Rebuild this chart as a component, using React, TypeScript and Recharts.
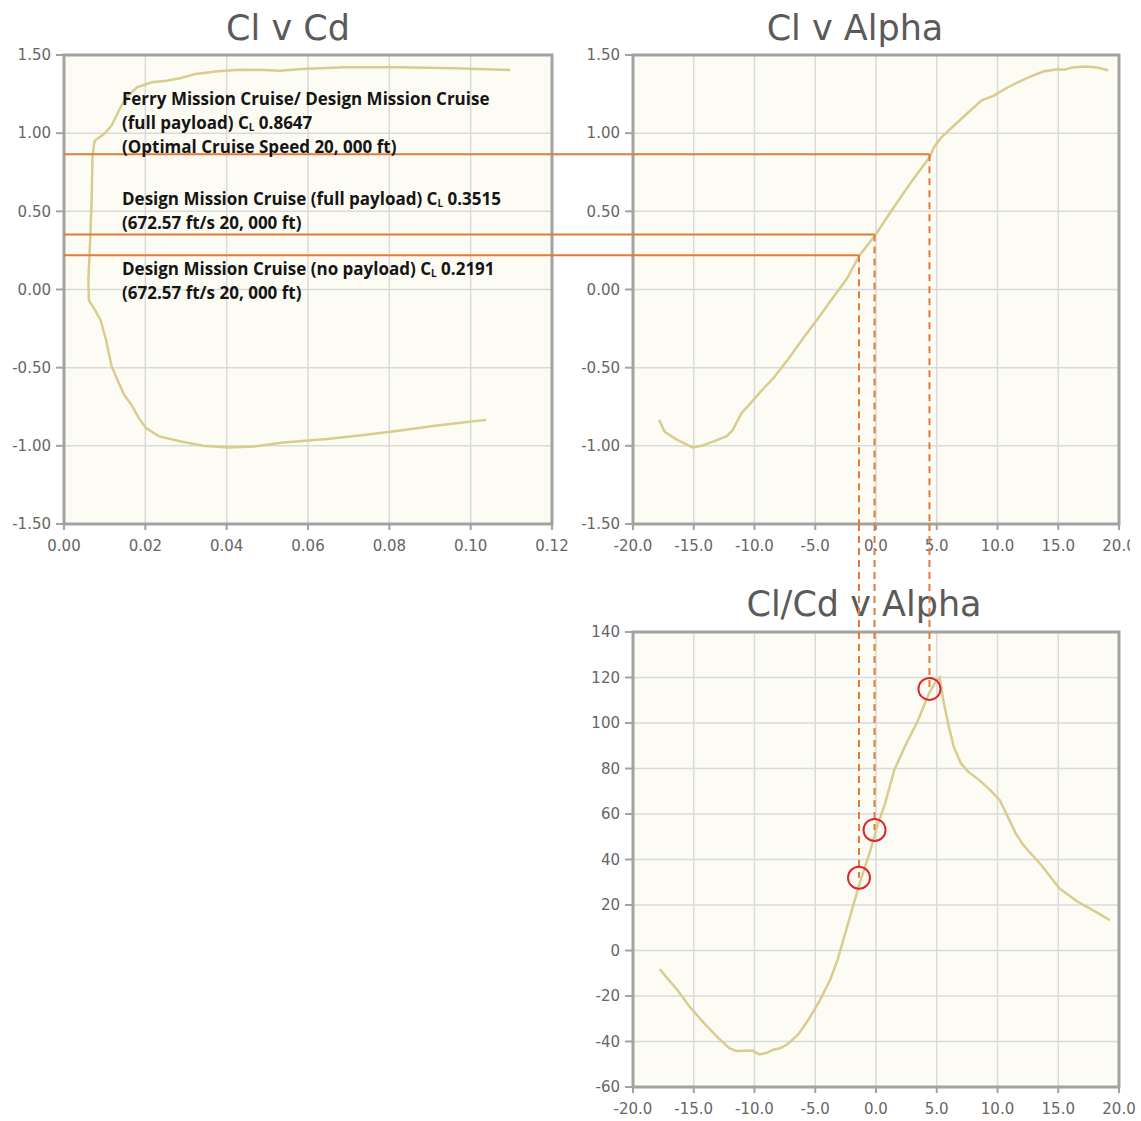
import React from 'react'
import {
    LineChart,
    Line,
    XAxis,
    YAxis,
    CartesianGrid,
    ReferenceLine,
    ReferenceDot,
    ReferenceArea,
} from 'recharts'

// Cl v Cd polar (ordered from alpha -18 to 19.5)
const polarCd = [
    0.1038, 0.0917, 0.0827, 0.0737, 0.0647, 0.0539, 0.0467, 0.0404, 0.0342, 0.0288, 0.0234, 0.0202,
    0.0184, 0.0166, 0.0148, 0.0135, 0.0117, 0.0103, 0.009, 0.0076, 0.0061, 0.006, 0.0064, 0.0068,
    0.007, 0.0074, 0.0076, 0.0099, 0.0117, 0.0135, 0.0153, 0.018, 0.0216, 0.0252, 0.0288, 0.0324,
    0.0378, 0.0431, 0.0494, 0.053, 0.0584, 0.069, 0.0827, 0.096, 0.1097,
]
const polarCl = [
    -0.834, -0.87, -0.902, -0.93, -0.957, -0.979, -1.004, -1.01, -1.0, -0.972, -0.94, -0.887,
    -0.823, -0.738, -0.674, -0.6, -0.49, -0.32, -0.196, -0.13, -0.068, 0.06, 0.3, 0.57,
    0.847, 0.932, 0.953, 0.996, 1.049, 1.145, 1.23, 1.294, 1.326, 1.336, 1.353, 1.379,
    1.396, 1.406, 1.404, 1.4, 1.411, 1.421, 1.421, 1.415, 1.404,
]

// Cl v Alpha
const clAlpha = [
    -17.85, -17.4, -16.4, -15.1, -14.35, -13.3, -12.25, -11.8, -11.06, -10.46, -9.57, -8.37, -7.17,
    -5.98, -4.78, -3.59, -2.39, -1.35, -0.06, 1.2, 2.99, 4.42, 4.78, 5.38, 6.58, 7.77, 8.67, 9.7,
    10.76, 11.66, 12.55, 13.75, 14.95, 15.5, 16.1, 17.3, 18.2, 19.1,
]
const clValues = [
    -0.834, -0.91, -0.96, -1.01, -1.0, -0.97, -0.936, -0.9, -0.79, -0.74, -0.66, -0.56, -0.44,
    -0.31, -0.185, -0.057, 0.07, 0.219, 0.347, 0.496, 0.698, 0.847, 0.91, 0.974, 1.06, 1.145, 1.208, 1.24,
    1.289, 1.325, 1.357, 1.394, 1.409, 1.405, 1.42, 1.426, 1.42, 1.402,
]

// Cl/Cd v Alpha
const clcdAlpha = [
    -17.8, -17.37, -16.3, -15.4, -14.2, -13.0, -12.1, -11.5, -10.2, -9.6, -9.0, -8.4, -7.9, -7.3,
    -6.4, -5.54, -4.64, -3.74, -3.14, -2.54, -1.95, -1.35, -0.45, 0.09, 0.75, 1.5, 2.5, 3.44, 4.34,
    4.94, 5.24, 5.54, 6.0, 6.4, 7.0, 7.6, 8.5, 9.4, 10.2, 11.5, 12.1, 13.6, 15.1, 16.6, 18.1, 19.25,
]
const clcdValues = [
    -8.1, -11, -17.7, -24.3, -31.7, -38.3, -42.8, -44.2, -44, -45.7, -45, -43.5, -43, -41.3,
    -36.9, -30.2, -22.1, -12.5, -3.7, 7.4, 18.4, 29.5, 44.2, 54.5, 64.7, 79.3, 91, 101, 112.7,
    118.5, 120, 110, 98.2, 89.5, 82.2, 78.5, 74.9, 70.5, 66, 51.5, 46.5, 37.6, 27.3, 21.4, 17, 13.3,
]

// cruise points: ferry / design full payload / design no payload
const cruiseCl = [0.8647, 0.3515, 0.2191]
const cruiseAlpha = [4.4, -0.12, -1.4]
const cruiseClCd = [115, 53, 32]

const cdTicks = [0, 0.02, 0.04, 0.06, 0.08, 0.1, 0.12]
const clTicks = [-1.5, -1.0, -0.5, 0, 0.5, 1.0, 1.5]
const alphaTicks = [-20, -15, -10, -5, 0, 5, 10, 15, 20]
const clcdTicks = [-60, -40, -20, 0, 20, 40, 60, 80, 100, 120, 140]

const polarData = polarCd.map((cd, i) => ({ x: cd, y: polarCl[i] }))
const clData = clAlpha.map((a, i) => ({ x: a, y: clValues[i] }))
const clcdData = clcdAlpha.map((a, i) => ({ x: a, y: clcdValues[i] }))

// layout (page pixels)
const C1 = { left: 0, top: 0, width: 575, height: 570 }
const C2 = { left: 552, top: 0, width: 578, height: 570 }
const C3 = { left: 552, top: 524, width: 589, height: 597 }
const PLOT1_LEFT = 64
const PLOT_LEFT = 633
const PLOT_RIGHT = 1119
const PLOT3_TOP = 632
const PLOT3_BOTTOM = 1087

const alphaPx = (PLOT_RIGHT - PLOT_LEFT) / 40
const gapAlpha = -20 - (PLOT_LEFT - C2.left) / alphaPx
const clcdPx = (PLOT3_BOTTOM - PLOT3_TOP) / 200
const topClCd = 140 + (PLOT3_TOP - C3.top) / clcdPx

const LINE = '#d9cc8f'
const ORANGE = '#e17a3a'
const GRID = '#dadada'
const FRAME = '#a2a2a2'
const BG = '#fdfcf4'
const tickStyle = { fontSize: 15, fill: '#666', fontFamily: 'DejaVu Sans' }

const titleStyle: React.CSSProperties = {
    position: 'absolute',
    width: 300,
    textAlign: 'center',
    fontSize: 35,
    color: '#5a5a5a',
    fontFamily: 'DejaVu Sans',
    whiteSpace: 'nowrap',
}

const noteStyle: React.CSSProperties = {
    position: 'absolute',
    left: 122,
    fontFamily: 'Open Sans',
    fontWeight: 700,
    fontSize: 17,
    lineHeight: '24px',
    color: '#151515',
    whiteSpace: 'nowrap',
}

const Sub = () => (
    <span style={{ fontSize: 10, lineHeight: 0, position: 'relative', top: 2 }}>L</span>
)

export default function App() {
    return (
        <div style={{ position: 'absolute', left: 0, top: 0, width: 1141, height: 1121, background: '#fff', overflow: 'hidden' }}>
            <div style={{ ...titleStyle, left: 138, top: 8 }}>Cl v Cd</div>
            <div style={{ ...titleStyle, left: 705, top: 8 }}>Cl v Alpha</div>

            <div style={{ position: 'absolute', left: C1.left, top: C1.top }}>
                <LineChart width={C1.width} height={C1.height} data={polarData}
                    margin={{ top: 55, right: C1.width - 552, bottom: 16, left: 0 }}>
                    <CartesianGrid stroke={GRID} strokeWidth={1.5} fill={BG} fillOpacity={1} />
                    <XAxis type="number" dataKey="x" domain={[0, 0.12]} ticks={cdTicks} interval={0}
                        tickFormatter={(v: number) => v.toFixed(2)} tick={tickStyle} height={30}
                        axisLine={false} tickLine={{ stroke: FRAME, strokeWidth: 2 }} tickSize={6} tickMargin={10} />
                    <YAxis type="number" domain={[-1.5, 1.5]} ticks={clTicks} interval={0} width={PLOT1_LEFT}
                        tickFormatter={(v: number) => v.toFixed(2)} tick={tickStyle}
                        axisLine={false} tickLine={{ stroke: FRAME, strokeWidth: 2 }} tickSize={8} tickMargin={5} />
                    <ReferenceArea x1={0} x2={0.12} y1={-1.5} y2={1.5} fill="none" stroke={FRAME} strokeWidth={3} />
                    <Line dataKey="y" type="linear" stroke={LINE} strokeWidth={2.5} dot={false} isAnimationActive={false} />
                    {cruiseCl.map((cl) => (
                        <ReferenceLine key={cl} segment={[{ x: 0, y: cl }, { x: 0.12, y: cl }]}
                            stroke={ORANGE} strokeWidth={2} ifOverflow="visible" />
                    ))}
                </LineChart>
            </div>

            <div style={{ ...noteStyle, top: 87 }}>
                Ferry Mission Cruise/ Design Mission Cruise<br />
                (full payload) C<Sub /> 0.8647<br />
                (Optimal Cruise Speed 20, 000 ft)
            </div>
            <div style={{ ...noteStyle, top: 187 }}>
                Design Mission Cruise (full payload) C<Sub /> 0.3515<br />
                (672.57 ft/s 20, 000 ft)
            </div>
            <div style={{ ...noteStyle, top: 257 }}>
                Design Mission Cruise (no payload) C<Sub /> 0.2191<br />
                (672.57 ft/s 20, 000 ft)
            </div>

            <div style={{ position: 'absolute', left: C2.left, top: C2.top }}>
                <LineChart width={C2.width} height={C2.height} data={clData}
                    margin={{ top: 55, right: C2.left + C2.width - PLOT_RIGHT, bottom: 16, left: 0 }}>
                    <CartesianGrid stroke={GRID} strokeWidth={1.5} fill={BG} fillOpacity={1} />
                    <XAxis type="number" dataKey="x" domain={[-20, 20]} ticks={alphaTicks} interval={0}
                        tickFormatter={(v: number) => v.toFixed(1)} tick={tickStyle} height={30}
                        axisLine={false} tickLine={{ stroke: FRAME, strokeWidth: 2 }} tickSize={6} tickMargin={10} />
                    <YAxis type="number" domain={[-1.5, 1.5]} ticks={clTicks} interval={0} width={PLOT_LEFT - C2.left}
                        tickFormatter={(v: number) => v.toFixed(2)} tick={tickStyle}
                        axisLine={false} tickLine={{ stroke: FRAME, strokeWidth: 2 }} tickSize={8} tickMargin={5} />
                    <ReferenceArea x1={-20} x2={20} y1={-1.5} y2={1.5} fill="none" stroke={FRAME} strokeWidth={3} />
                    <Line dataKey="y" type="linear" stroke={LINE} strokeWidth={2.5} dot={false} isAnimationActive={false} />
                    {cruiseCl.map((cl, i) => (
                        <ReferenceLine key={'h' + cl} segment={[{ x: gapAlpha, y: cl }, { x: cruiseAlpha[i], y: cl }]}
                            stroke={ORANGE} strokeWidth={2} ifOverflow="visible" />
                    ))}
                    {cruiseCl.map((cl, i) => (
                        <ReferenceLine key={'v' + cl} segment={[{ x: cruiseAlpha[i], y: cl }, { x: cruiseAlpha[i], y: -1.5 }]}
                            stroke={ORANGE} strokeWidth={2} strokeDasharray="7 5" ifOverflow="visible" />
                    ))}
                </LineChart>
            </div>

            <div style={{ ...titleStyle, left: 714, top: 584 }}>Cl/Cd v Alpha</div>

            <div style={{ position: 'absolute', left: C3.left, top: C3.top }}>
                <LineChart width={C3.width} height={C3.height} data={clcdData}
                    margin={{ top: PLOT3_TOP - C3.top, right: C3.left + C3.width - PLOT_RIGHT, bottom: C3.top + C3.height - PLOT3_BOTTOM - 30, left: 0 }}>
                    <CartesianGrid stroke={GRID} strokeWidth={1.5} fill={BG} fillOpacity={1} />
                    <XAxis type="number" dataKey="x" domain={[-20, 20]} ticks={alphaTicks} interval={0}
                        tickFormatter={(v: number) => v.toFixed(1)} tick={tickStyle} height={30}
                        axisLine={false} tickLine={{ stroke: FRAME, strokeWidth: 2 }} tickSize={6} tickMargin={10} />
                    <YAxis type="number" domain={[-60, 140]} ticks={clcdTicks} interval={0} width={PLOT_LEFT - C3.left}
                        tick={tickStyle}
                        axisLine={false} tickLine={{ stroke: FRAME, strokeWidth: 2 }} tickSize={8} tickMargin={5} />
                    <ReferenceArea x1={-20} x2={20} y1={-60} y2={140} fill="none" stroke={FRAME} strokeWidth={3} />
                    <Line dataKey="y" type="linear" stroke={LINE} strokeWidth={2.5} dot={false} isAnimationActive={false} />
                    {cruiseClCd.map((v, i) => (
                        <ReferenceLine key={'d' + v} segment={[{ x: cruiseAlpha[i], y: topClCd }, { x: cruiseAlpha[i], y: v }]}
                            stroke={ORANGE} strokeWidth={2} strokeDasharray="7 5" ifOverflow="visible" />
                    ))}
                    {cruiseClCd.map((v, i) => (
                        <ReferenceDot key={'c' + v} x={cruiseAlpha[i]} y={v} r={11} fill="none"
                            stroke="#e0262b" strokeWidth={2} ifOverflow="visible" />
                    ))}
                </LineChart>
            </div>
        </div>
    )
}
